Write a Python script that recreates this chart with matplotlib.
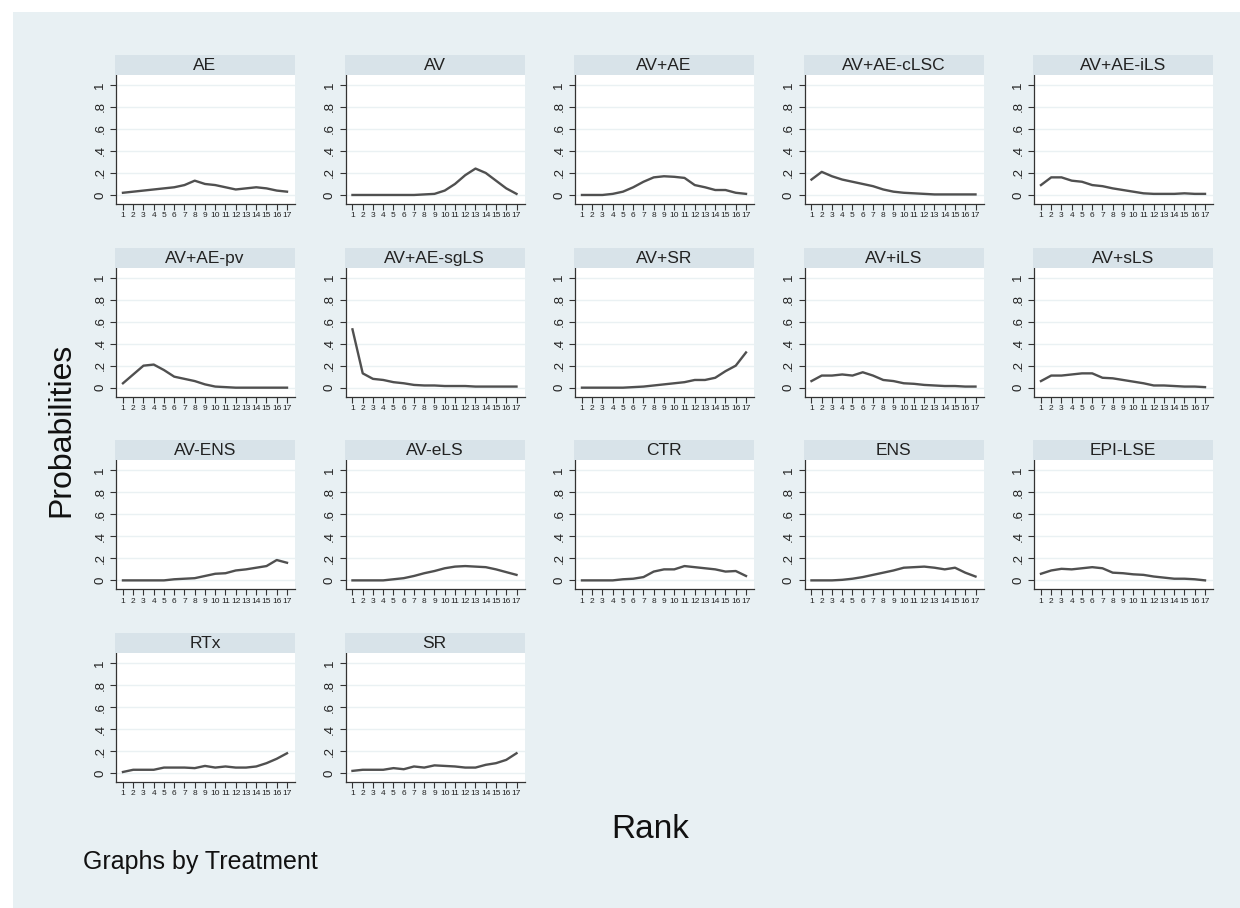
import matplotlib
matplotlib.use("Agg")
import matplotlib.pyplot as plt
from matplotlib.patches import Rectangle
import numpy as np

plt.rcParams['font.family'] = ['Liberation Sans', 'DejaVu Sans']

ranks = list(range(1, 18))
treatments = ["AE", "AV", "AV+AE", "AV+AE-cLSC", "AV+AE-iLS",
              "AV+AE-pv", "AV+AE-sgLS", "AV+SR", "AV+iLS", "AV+sLS",
              "AV-ENS", "AV-eLS", "CTR", "ENS", "EPI-LSE",
              "RTx", "SR"]

p_AE = [0.02, 0.03, 0.04, 0.05, 0.06, 0.07, 0.09, 0.13, 0.10, 0.09, 0.07, 0.05, 0.06, 0.07, 0.06, 0.04, 0.03]
p_AV = [0.0, 0.0, 0.0, 0.0, 0.0, 0.0, 0.0, 0.005, 0.01, 0.04, 0.10, 0.18, 0.24, 0.20, 0.13, 0.06, 0.01]
p_AV_AE = [0.0, 0.0, 0.0, 0.01, 0.03, 0.07, 0.12, 0.16, 0.17, 0.165, 0.155, 0.09, 0.07, 0.045, 0.045, 0.02, 0.01]
p_AV_AE_cLSC = [0.14, 0.21, 0.17, 0.14, 0.12, 0.10, 0.08, 0.05, 0.03, 0.02, 0.015, 0.01, 0.005, 0.005, 0.005, 0.005, 0.005]
p_AV_AE_iLS = [0.09, 0.16, 0.16, 0.13, 0.12, 0.09, 0.08, 0.06, 0.045, 0.03, 0.015, 0.01, 0.01, 0.01, 0.015, 0.01, 0.01]
p_AV_AE_pv = [0.04, 0.12, 0.20, 0.21, 0.16, 0.10, 0.08, 0.06, 0.03, 0.01, 0.005, 0.0, 0.0, 0.0, 0.0, 0.0, 0.0]
p_AV_AE_sgLS = [0.53, 0.13, 0.08, 0.07, 0.05, 0.04, 0.025, 0.02, 0.02, 0.015, 0.015, 0.015, 0.01, 0.01, 0.01, 0.01, 0.01]
p_AV_SR = [0.0, 0.0, 0.0, 0.0, 0.0, 0.005, 0.01, 0.02, 0.03, 0.04, 0.05, 0.07, 0.07, 0.09, 0.15, 0.20, 0.32]
p_AV_iLS = [0.06, 0.11, 0.11, 0.12, 0.11, 0.14, 0.11, 0.07, 0.06, 0.04, 0.035, 0.025, 0.02, 0.015, 0.015, 0.01, 0.01]
p_AV_sLS = [0.06, 0.11, 0.11, 0.12, 0.13, 0.13, 0.09, 0.085, 0.07, 0.055, 0.04, 0.02, 0.02, 0.015, 0.01, 0.01, 0.005]
p_AV_ENS = [0.0, 0.0, 0.0, 0.0, 0.0, 0.01, 0.015, 0.02, 0.04, 0.06, 0.065, 0.09, 0.10, 0.115, 0.13, 0.185, 0.16]
p_AV_eLS = [0.0, 0.0, 0.0, 0.0, 0.01, 0.02, 0.04, 0.065, 0.085, 0.11, 0.125, 0.13, 0.125, 0.12, 0.10, 0.075, 0.05]
p_CTR = [0.0, 0.0, 0.0, 0.0, 0.01, 0.015, 0.03, 0.08, 0.10, 0.10, 0.13, 0.12, 0.11, 0.10, 0.08, 0.085, 0.04]
p_ENS = [0.0, 0.0, 0.0, 0.005, 0.015, 0.03, 0.05, 0.07, 0.09, 0.115, 0.12, 0.125, 0.115, 0.10, 0.115, 0.07, 0.035]
p_EPI_LSE = [0.06, 0.09, 0.105, 0.10, 0.11, 0.12, 0.11, 0.07, 0.065, 0.055, 0.05, 0.035, 0.025, 0.015, 0.015, 0.01, 0.0]
p_RTx = [0.01, 0.03, 0.03, 0.03, 0.05, 0.05, 0.05, 0.045, 0.065, 0.05, 0.06, 0.05, 0.05, 0.06, 0.09, 0.13, 0.18]
p_SR = [0.02, 0.03, 0.03, 0.03, 0.045, 0.035, 0.06, 0.05, 0.07, 0.065, 0.06, 0.05, 0.05, 0.075, 0.09, 0.12, 0.18]

probs = [p_AE, p_AV, p_AV_AE, p_AV_AE_cLSC, p_AV_AE_iLS,
         p_AV_AE_pv, p_AV_AE_sgLS, p_AV_SR, p_AV_iLS, p_AV_sLS,
         p_AV_ENS, p_AV_eLS, p_CTR, p_ENS, p_EPI_LSE,
         p_RTx, p_SR]

y_ticks = [0, 0.2, 0.4, 0.6, 0.8, 1.0]
y_ticklabels = ["0", ".2", ".4", ".6", ".8", "1"]

W, H = 1240, 908
BG = "#e8f0f3"
STRIP = "#d8e3e9"
fig = plt.figure(figsize=(W / 100, H / 100), dpi=100)
fig.patch.set_facecolor("white")
fig.patches.append(Rectangle((13 / W, 0), 1 - 13 / W, (H - 12) / H,
                             transform=fig.transFigure, facecolor=BG,
                             edgecolor="none", zorder=-10))


def fx(px):
    return px / W


def fy(py):
    return 1 - py / H


col_step = 229.5
row_step = 192.7
for i, (name, vals) in enumerate(zip(treatments, probs)):
    r, c = divmod(i, 5)
    left = 116 + col_step * c
    right = 295 + col_step * c
    top = 75 + row_step * r
    bottom = 204 + row_step * r
    ax = fig.add_axes([fx(left), fy(bottom), fx(right - left), (bottom - top) / H])
    ax.set_facecolor("white")
    ax.plot(ranks, vals, color="#505050", lw=1.7, solid_joinstyle="round")
    ax.set_xlim(0.32, 17.78)
    ax.set_ylim(-0.082, 1.09)
    ax.set_yticks(y_ticks)
    ax.set_yticklabels(y_ticklabels, rotation=90, va="center", fontsize=9.5, color="#222222")
    ax.set_xticks(ranks)
    ax.set_xticklabels([str(k) for k in ranks], fontsize=6, color="#222222")
    ax.tick_params(axis="y", length=4, width=0.8, pad=3, color="#333333")
    ax.tick_params(axis="x", length=4, width=0.8, pad=2, color="#333333")
    for t in y_ticks:
        ax.axhline(t, color="#eaf1f3", lw=1.0, zorder=0)
    for s in ["top", "right"]:
        ax.spines[s].set_visible(False)
    for s in ["left", "bottom"]:
        ax.spines[s].set_color("#333333")
        ax.spines[s].set_linewidth(0.9)
    # strip title
    sx0, sy0 = left - 1, 55 + row_step * r
    sh = 20
    fig.patches.append(Rectangle((fx(sx0), fy(sy0 + sh)), fx(right - sx0), sh / H,
                                 transform=fig.transFigure, facecolor=STRIP,
                                 edgecolor="none", zorder=1))
    fig.text(fx((sx0 + right) / 2), fy(sy0 + sh / 2 + 0.5), name, ha="center",
             va="center", fontsize=12.5, color="#222222")

fig.text(fx(61), fy(430), "Probabilities", rotation=90, ha="center", va="center",
         fontsize=23, color="#111111")
fig.text(fx(650), fy(830), "Rank", ha="center", va="center", fontsize=24, color="#111111")
fig.text(fx(83), fy(862), "Graphs by Treatment", ha="left", va="center",
         fontsize=18, color="#111111")

fig.savefig("out.png", dpi=100, facecolor=fig.get_facecolor())
